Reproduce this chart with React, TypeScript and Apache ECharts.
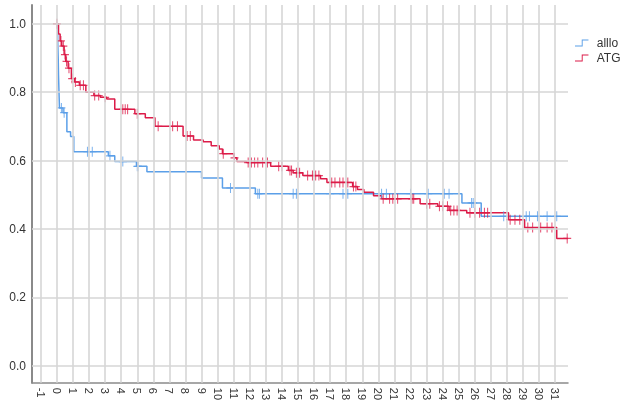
import React, { useEffect, useRef } from 'react';
import * as echarts from 'echarts';

const xTicks = [-1, 0, 1, 2, 3, 4, 5, 6, 7, 8, 9, 10, 11, 12, 13, 14, 15, 16, 17, 18, 19, 20, 21, 22, 23, 24, 25, 26, 27, 28, 29, 30, 31];
const yTicks = [0, 0.2, 0.4, 0.6, 0.8, 1.0];

const seriesNames = ['alllo', 'ATG'];

// alllo: event times and survival after each event
const allloTimes = [0, 0.05, 0.08, 0.1, 0.13, 0.16, 0.38, 0.62, 0.85, 1.05, 3.2, 3.6, 4.95, 5.6, 9.0, 10.3, 12.35, 25.2, 26.4, 31.8];
const allloSurv = [1.0, 0.95, 0.9, 0.85, 0.8, 0.754, 0.74, 0.684, 0.67, 0.626, 0.614, 0.597, 0.583, 0.567, 0.549, 0.52, 0.503, 0.476, 0.437, 0.437];
const allloCensor = [0.28, 0.45, 1.9, 2.2, 3.3, 4.1, 5.0, 5.05, 10.8, 12.5, 12.6, 14.7, 14.9, 17.0, 17.8, 18.1, 20.2, 20.5, 22.0, 23.1, 24.1, 24.4, 25.8, 25.9, 27.8, 29.2, 29.4, 29.9, 30.5, 31.1];

// ATG: event times and survival after each event
const atgTimes = [0, 0.1, 0.2, 0.3, 0.45, 0.55, 0.7, 0.9, 1.1, 1.4, 1.8, 2.3, 2.7, 3.1, 3.6, 4.85, 5.5, 6.1, 7.85, 8.5, 9.1, 9.6, 10.1, 10.3, 11.0, 11.2, 11.8, 13.3, 14.4, 14.7, 15.3, 16.4, 16.8, 18.4, 18.7, 19.1, 19.7, 20.2, 22.6, 23.7, 24.4, 25.5, 28.1, 29.1, 31.1, 31.8];
const atgSurv = [1.0, 0.97, 0.95, 0.935, 0.91, 0.89, 0.87, 0.84, 0.83, 0.82, 0.8, 0.79, 0.785, 0.78, 0.75, 0.737, 0.725, 0.7, 0.672, 0.66, 0.655, 0.643, 0.634, 0.62, 0.608, 0.597, 0.594, 0.583, 0.571, 0.564, 0.556, 0.547, 0.536, 0.524, 0.515, 0.507, 0.497, 0.488, 0.474, 0.466, 0.454, 0.447, 0.427, 0.404, 0.372, 0.372];
const atgCensor = [0, 0.25, 0.4, 0.5, 0.6, 0.75, 0.95, 1.15, 1.45, 1.65, 2.35, 2.6, 3.0, 4.1, 4.25, 4.4, 5.0, 6.3, 7.2, 7.5, 8.1, 8.3, 10.35, 11.05, 11.9, 12.1, 12.3, 12.5, 12.8, 13.1, 13.8, 14.0, 14.5, 14.6, 14.9, 15.1, 15.6, 15.9, 16.1, 16.3, 17.1, 17.3, 17.6, 17.8, 18.1, 18.45, 18.6, 20.3, 20.7, 20.9, 21.2, 22.1, 22.2, 23.0, 23.2, 23.8, 24.0, 24.3, 24.5, 24.7, 24.9, 25.7, 26.0, 26.3, 26.6, 26.8, 28.2, 28.5, 28.8, 29.3, 29.6, 30.1, 30.5, 30.8, 31.75];

const colors = ['#5b9fe8', '#dc1b48'];

function survivalAt(times: number[], surv: number[], t: number): number {
  let v = surv[0];
  for (let i = 0; i < times.length; i++) {
    if (times[i] <= t) v = surv[i];
    else break;
  }
  return v;
}

const plusPath = 'path://M7,0h2v7h7v2h-7v7h-2v-7h-7v-2h7z';
const stepIcon = 'path://M0,9H10V0H20V1.4H11.4V10.4H0Z';

export default function App() {
  const ref = useRef<HTMLDivElement>(null);
  useEffect(() => {
    if (!ref.current) return;
    const chart = echarts.init(ref.current, undefined, { renderer: 'svg' });
    const font = 'Liberation Sans, Arial, sans-serif';
    const curves = [
      { times: allloTimes, surv: allloSurv, censor: allloCensor },
      { times: atgTimes, surv: atgSurv, censor: atgCensor },
    ];
    const series: any[] = [
      {
        type: 'line',
        data: [],
        silent: true,
        z: 1,
        markLine: {
          silent: true,
          symbol: ['none', 'none'],
          label: { show: false },
          lineStyle: { color: '#d6d6d6', width: 1.6, type: 'solid' },
          data: [
            ...xTicks.map((v) => ({ xAxis: v })),
            ...yTicks.map((v) => ({ yAxis: v })),
          ],
        },
      },
    ];
    curves.forEach((c, i) => {
      series.push({
        name: seriesNames[i],
        type: 'line',
        step: 'end',
        showSymbol: false,
        z: 3,
        lineStyle: { color: colors[i], width: 1.5 },
        itemStyle: { color: colors[i] },
        data: c.times.map((t, k) => [t, c.surv[k]]),
      });
      series.push({
        name: seriesNames[i],
        type: 'scatter',
        symbol: plusPath,
        symbolSize: [8, 10],
        z: 4,
        itemStyle: { color: colors[i] },
        data: c.censor.map((t) => [t, survivalAt(c.times, c.surv, t)]),
      });
    });
    chart.setOption({
      animation: false,
      textStyle: { fontFamily: font },
      grid: { left: 32, right: 61, top: 5, bottom: 20, containLabel: false },
      legend: {
        data: seriesNames.map((n, i) => ({ name: n, icon: stepIcon, itemStyle: { color: colors[i] } })),
        orient: 'vertical',
        left: 570,
        top: 32,
        itemWidth: 20,
        itemHeight: 7,
        itemGap: 3,
        itemStyle: { borderWidth: 0 },
        textStyle: { fontSize: 12, color: '#333', fontFamily: font },
        selectedMode: false,
      },
      xAxis: {
        type: 'value',
        min: -1.55,
        max: 31.8,
        axisLine: { show: true, onZero: false, lineStyle: { color: '#8a8a8a', width: 1.5 } },
        axisTick: { show: false },
        splitLine: { show: false },
        axisLabel: {
          customValues: xTicks,
          rotate: -90,
          margin: 5,
          fontSize: 11,
          color: '#333',
          fontFamily: font,
        },
      },
      yAxis: {
        type: 'value',
        min: -0.05,
        max: 1.055,
        axisLine: { show: true, onZero: false, lineStyle: { color: '#8a8a8a', width: 2 } },
        axisTick: { show: false },
        splitLine: { show: false },
        axisLabel: {
          customValues: yTicks,
          formatter: (v: number) => v.toFixed(1),
          margin: 6,
          fontSize: 12,
          color: '#333',
          fontFamily: font,
        },
      },
      series,
    });
    return () => chart.dispose();
  }, []);
  return (
    <div
      ref={ref}
      style={{ position: 'fixed', left: 0, top: 0, width: 629, height: 403 }}
    />
  );
}
